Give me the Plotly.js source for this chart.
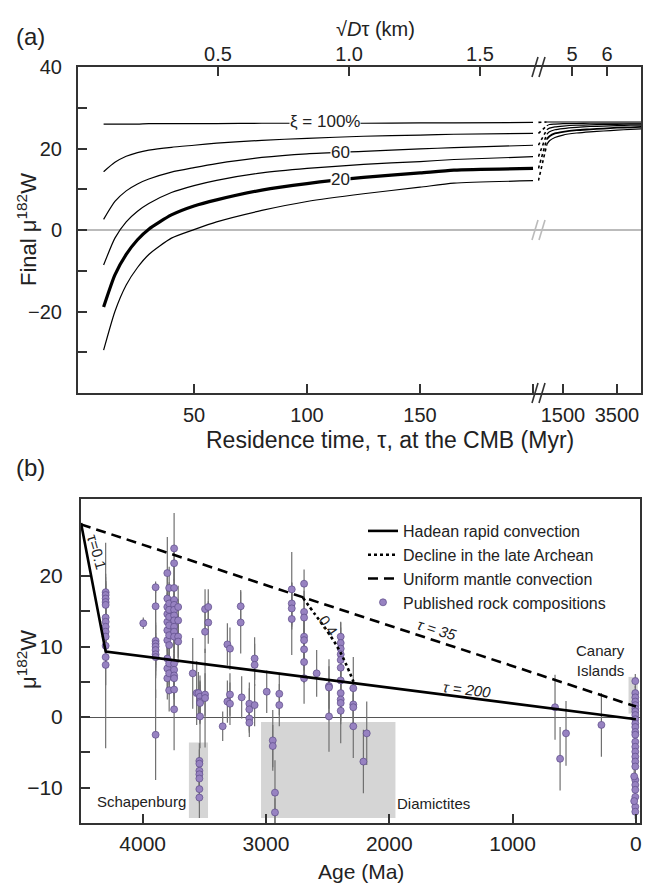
<!DOCTYPE html>
<html><head><meta charset="utf-8">
<script src="https://cdn.plot.ly/plotly-3.0.1.min.js"></script>
<style>html,body{margin:0;padding:0;background:#fff}#chart{width:659px;height:885px}</style>
</head><body><div id="chart"></div>
<script>
// ---------- Panel (a) data ----------
const tau = [10,15,20,25,30,40,50,60,80,100,125,150,165,200];
const xi100 = [26.0,26.0,26.0,26.0,26.1,26.1,26.1,26.1,26.2,26.2,26.2,26.3,26.3,26.4];
const xi80  = [14.3,16.6,18.1,19.0,19.6,20.3,20.8,21.3,22.0,22.5,23.0,23.3,23.5,23.7];
const xi60  = [2.6,7.0,9.6,11.3,12.5,14.2,15.3,16.3,17.8,18.7,19.3,19.9,20.2,20.8];
const xi40  = [-8.6,-2.0,2.0,4.6,6.5,9.2,10.9,12.2,14.0,15.1,16.1,16.8,17.3,18.0];
const xi20  = [-18.9,-11.0,-6.0,-2.4,0.2,3.7,5.9,7.4,9.8,11.4,12.9,14.0,14.7,15.1];
const xi0   = [-29.5,-20.0,-13.5,-9.2,-6.0,-2.0,0.1,2.0,4.8,7.0,8.9,10.5,11.5,12.1];
const tauLong = [900,1000,1200,1500,2000,2500,3000,3500,4000,4390];
const xi100L = [26.5,26.5,26.5,26.5,26.5,26.5,26.5,26.5,26.5,26.5];
const xi80L  = [25.6,25.9,26.0,26.1,26.1,26.2,26.2,26.2,26.2,26.2];
const xi60L  = [24.6,25.0,25.3,25.5,25.7,25.8,25.9,25.9,26.0,26.0];
const xi40L  = [23.5,24.1,24.6,24.9,25.2,25.4,25.5,25.6,25.7,25.7];
const xi20L  = [22.3,23.0,23.7,24.1,24.5,24.7,24.9,25.1,25.2,25.3];
const xi0L   = [21.0,21.9,22.7,23.3,23.8,24.1,24.3,24.5,24.7,24.8];
const gapTau = [590,900];
const bottomTicksA = [50,100,150,200];
const bottomLabelsA = ['50','100','150',''];
const bottomTicksA2 = [1500,3500];
const topTicksA = [60.6,118.6,176.5];
const topLabelsA = ['0.5','1.0','1.5'];
const topTicksA2 = [1833,3130];
const topLabelsA2 = ['5','6'];
const yTicksA = [-30,-20,-10,0,10,20,30,40];
const yLabelsA = ['','−20','','0','','20','','40'];

// ---------- Panel (b) data ----------
const hadeanAge = [4500,4300,0];
const hadeanMu  = [27.5,9.3,-0.3];
const declineAge = [2700,2600,2500,2400,2290];
const declineMu  = [16.9,14.5,12.1,9.3,5.0];
const uniformAge = [4500,0];
const uniformMu  = [27.3,1.5];
const rockColAge = [4300,3995,3895,3800,3785,3745,3712,3594,3562,3548,3535,3494,3468,3540,3351,3313,3292,3205,3197,3135,3092,2994,2945,2927,2892,2791,2691,2589,2489,2394,2292,2210,2183,656,615,567,280,5,14];
const rockColMu = [
 [17.7,17.3,16.8,16.3,15.9,14.1,13.5,12.8,12.1,11.4,10.1,8.5,7.4],
 [13.3],
 [18.4,15.7,10.8,10.4,10.0,9.5,8.9,8.5,-2.5],
 [20.4,16.8,15.6,14.6,13.5,12.3,10.9,8.3,6.9,5.5],
 [18.3,16.1,15.2,14.2,13.0,11.6,10.2,7.6,6.2,3.8],
 [23.9,21.8,18.3,16.6,15.9,15.2,14.4,13.7,12.8,12.1,11.4,7.6,6.7,5.9,5.5,3.9,1.1],
 [15.6,13.7,11.4,10.7],
 [6.2],[3.4],[3.4],
 [2.9,2.2,2.0,0.1],
 [15.3,12.1,3.2,2.7],
 [15.6,13.4],
 [-6.2,-6.6,-7.6,-8.1,-8.7,-10.2,-11.4],
 [-1.3],[10.3,2.2],[9.7,3.2,1.9],[15.7,13.4],[2.8],
 [1.9,1.1,-0.2,-0.8],[8.3,7.4,1.7],[3.6],[-3.3,-4.1],[-10.7,-13.5],[3.3,1.7],
 [18.1,16.1,15.4,13.9],
 [18.9,14.9,14.1,11.4,10.9,9.6,7.8,5.5],
 [6.2],[4.4,4.2,0.1],
 [11.4,10.5,9.7,8.9,8.1,7.0,5.2,3.4,2.5,2.0,0.9],
 [4.1,1.8,1.4,-1.3],[-6.3],[-2.3],
 [1.4],[-5.9],[-2.3],[-1.1],
 [5.1,3.4,2.8,2.2,1.7,1.2,0.8,0.3,-0.3,-0.9,-1.4,-2.1,-2.5,-3.5,-4.2,-4.9,-5.6,-6.3,-7.0,-8.9,-9.6,-10.3,-11.3,-12.7,-13.4],
 [-8.4,-11.9]
];
const rockColErr = [
 [7,3,3,3,3,3,3,3,3,3,3,4,11.8],
 [0.8],
 [0.8,3.2,8.1,3,3,3,3,3,6.4],
 [5.1,3,3,3,3,3,3,3,3,3],
 [3,3,3,3,3,3,3,3,3,3],
 [5,2.5,3,3,3,3,3,3,3,3,3,3,3,3,3,3,5.8],
 [3,3,3,3],
 [5],[4.5],[3],
 [3,3,3,4.5],
 [2.8,3,3,7],
 [2.5,3],
 [2.5,2,2,2,2,2,2.9],
 [2.1],[3,3],[3,3,3],[2.3,4.4],[3],
 [3,3,2,2],[3,3,3],[3],[4.3,3],[4.6,2],[3,3],
 [5.3,3,3,5.1],
 [2,3,3,3,3,3,3,3.6],
 [3.3],[3.8,3,5],
 [2,3,3,3,3,3,3,3,3,3,4.6],
 [4.4,3,3,4.5],[4.5],[4.5],
 [4.6],[4.5],[4.6],[4.5],
 [1,1,1,1,1,1,1,1,1,1,1,1,1,1,1,1,1,1,1,1,1,1,1,1,1],
 [1,1]
];
const regionName = ['Schapenburg','Diamictites','Canary'];
const regionAgeMax = [3625,3040,60];
const regionAgeMin = [3470,1950,-15];
const regionMuMin = [-14.3,-14.3,0.5];
const regionMuMax = [-3.6,-0.7,5.7];
const xTicksB = [4000,3000,2000,1000,0];
const yTicksB = [-10,-5,0,5,10,15,20];
const yLabelsB = ['−10','','0','','10','','20'];

// ---------- build ----------
const W=659,H=885;
const px=x=>x/W, py=y=>1-y/H;
const FONT='Liberation Sans, Arial, sans-serif';
const rockAge=[],rockMu=[],rockErr=[];
rockColAge.forEach((a,i)=>{rockColMu[i].forEach((m,j)=>{rockAge.push(a);rockMu.push(m);rockErr.push(rockColErr[i][j]);});});

const traces=[];
const segA=[xi100,xi80,xi60,xi40,xi20,xi0];
const segL=[xi100L,xi80L,xi60L,xi40L,xi20L,xi0L];
segA.forEach((arr,i)=>{
  const w = i===4?3.2:1.2;
  traces.push({x:tau,y:arr,xaxis:'x',yaxis:'y',mode:'lines',line:{color:'#000',width:w,shape:'spline',smoothing:0.6},showlegend:false,hoverinfo:'skip'});
  traces.push({x:tauLong,y:segL[i],xaxis:'x2',yaxis:'y2',mode:'lines',line:{color:'#000',width:i===4?1.8:1.2,shape:'spline',smoothing:0.6},showlegend:false,hoverinfo:'skip'});
  traces.push({x:gapTau,y:[arr[arr.length-1],segL[i][0]],xaxis:'x2',yaxis:'y2',mode:'lines',line:{color:'#000',width:1.6,dash:'dot'},showlegend:false,hoverinfo:'skip'});
});
traces.push({x:[],y:[],xaxis:'x3',yaxis:'y',showlegend:false});
traces.push({x:[],y:[],xaxis:'x4',yaxis:'y2',showlegend:false});

traces.push({x:rockAge,y:rockMu,xaxis:'x5',yaxis:'y3',mode:'markers',name:'Published rock compositions',legendrank:4,
  marker:{size:7,color:'#9782c1',line:{color:'#5d4c88',width:0.7}},
  error_y:{type:'data',array:rockErr,visible:true,color:'#707070',thickness:1.2,width:0}});
traces.push({x:hadeanAge,y:hadeanMu,xaxis:'x5',yaxis:'y3',mode:'lines',name:'Hadean rapid convection',legendrank:1,line:{color:'#000',width:2.6}});
traces.push({x:declineAge,y:declineMu,xaxis:'x5',yaxis:'y3',mode:'lines',name:'Decline in the late Archean',legendrank:2,line:{color:'#000',width:2.6,dash:'dot',shape:'spline'}});
traces.push({x:uniformAge,y:uniformMu,xaxis:'x5',yaxis:'y3',mode:'lines',name:'Uniform mantle convection',legendrank:3,line:{color:'#000',width:2.6,dash:'10px,6px'}});

const ax={showline:true,linecolor:'#333',linewidth:2,ticks:'inside',ticklen:9,tickwidth:2,tickcolor:'#333',showgrid:false,zeroline:false,tickfont:{size:20,color:'#222',family:FONT}};

const shapes=[];
regionName.forEach((n,i)=>{
  shapes.push({type:'rect',xref:'x5',yref:'y3',x0:regionAgeMax[i],x1:regionAgeMin[i],y0:regionMuMin[i],y1:regionMuMax[i],fillcolor:'#d5d5d5',line:{width:0},layer:'below'});
});
// axis-break marks
[[67,'#333'],[393,'#333'],[230,'#bbb']].forEach(([y,c])=>{
  [[532,538],[539,545]].forEach(([a,b])=>{
    shapes.push({type:'line',xref:'paper',yref:'paper',x0:px(a),x1:px(b),y0:py(y+10),y1:py(y-10),line:{color:c,width:1.6}});
  });
});

const ann=[];
const T=(x,y,text,opt)=>ann.push(Object.assign({xref:'paper',yref:'paper',x:px(x),y:py(y),xanchor:'center',yanchor:'middle',text:text,showarrow:false,font:{size:21,color:'#222',family:FONT}},opt||{}));
T(30,37,'(a)',{font:{size:24,color:'#222',family:FONT}});
T(30,467,'(b)',{font:{size:24,color:'#222',family:FONT}});
T(375,29,'√<i>D</i>τ (km)',{font:{size:20,color:'#222',family:FONT}});
T(390,440,'Residence time, τ, at the CMB (Myr)',{font:{size:23,color:'#222',family:FONT}});
T(27,230,'Final μ<sup>182</sup>W',{textangle:-90,font:{size:22,color:'#222',family:FONT}});
T(27,660,'μ<sup>182</sup>W',{textangle:-90,font:{size:22,color:'#222',family:FONT}});
T(361,871,'Age (Ma)',{font:{size:21,color:'#222',family:FONT}});
const A=(x,y,text,opt)=>ann.push(Object.assign({xref:'x',yref:'y',x:x,y:y,text:text,showarrow:false,font:{size:17,color:'#222',family:FONT},bgcolor:'#fff',borderpad:0},opt||{}));
A(108,26.6,'ξ = 100%');
A(115,19.1,'60');
A(115,12.3,'20');
const B=(x,y,text,opt)=>ann.push(Object.assign({xref:'x5',yref:'y3',x:x,y:y,text:text,showarrow:false,font:{size:15,color:'#222',family:FONT}},opt||{}));
B(4374,23.4,'τ=0.1',{textangle:74});
B(2494,13.0,'0.4',{textangle:56});
B(1616,12.4,'<i>τ = 35</i>',{textangle:17});
B(1372,3.9,'<i>τ = 200</i>',{textangle:7});
B(4010,-12.0,'Schapenburg');
B(1645,-12.3,'Diamictites');
B(70,8.0,'Canary<br>Islands',{xanchor:'right',align:'right'});

const layout={
  width:W,height:H,margin:{l:0,r:0,t:0,b:0},paper_bgcolor:'#fff',plot_bgcolor:'rgba(0,0,0,0)',
  font:{family:FONT,color:'#222'},
  xaxis:Object.assign({},ax,{domain:[px(78),px(538)],range:[-1.33,202.2],anchor:'y',tickvals:bottomTicksA,ticktext:bottomLabelsA,ticklabelstandoff:3}),
  xaxis2:Object.assign({},ax,{domain:[px(538),px(641)],range:[574,4389],anchor:'y2',tickvals:bottomTicksA2,ticktext:['1500','3500'],ticklabelstandoff:3}),
  xaxis3:Object.assign({},ax,{overlaying:'x',side:'top',anchor:'y',range:[-1.33,202.2],tickvals:topTicksA,ticktext:topLabelsA,ticklabelstandoff:-4,tickfont:{size:20,color:'#222',family:FONT}}),
  xaxis4:Object.assign({},ax,{overlaying:'x2',side:'top',anchor:'y2',range:[574,4389],tickvals:topTicksA2,ticktext:topLabelsA2,ticklabelstandoff:-4,tickfont:{size:20,color:'#222',family:FONT}}),
  yaxis:Object.assign({},ax,{domain:[py(393),py(67)],range:[-40,40],anchor:'x',tickvals:yTicksA,ticktext:yLabelsA,zeroline:true,zerolinecolor:'#bbb',zerolinewidth:2,ticklabelstandoff:10}),
  yaxis2:Object.assign({},ax,{domain:[py(393),py(67)],range:[-40,40],anchor:'x2',side:'right',ticks:'',showticklabels:false,zeroline:true,zerolinecolor:'#bbb',zerolinewidth:2}),
  xaxis5:Object.assign({},ax,{domain:[px(81),px(640)],range:[4500,-33],anchor:'y3',mirror:true,tickvals:xTicksB,ticklabelstandoff:1,tickfont:{size:21,color:'#222',family:FONT}}),
  yaxis3:Object.assign({},ax,{domain:[py(823),py(499)],range:[-15,30.9],anchor:'x5',mirror:true,tickvals:yTicksB,ticktext:yLabelsB,zeroline:true,zerolinecolor:'#555',zerolinewidth:1,ticklabelstandoff:12,tickfont:{size:21,color:'#222',family:FONT}}),
  showlegend:true,
  legend:{x:px(363),xanchor:'left',y:py(514),yanchor:'top',font:{size:16,color:'#222',family:FONT},bgcolor:'rgba(0,0,0,0)',borderwidth:0,tracegroupgap:0},
  shapes:shapes,annotations:ann
};
Plotly.newPlot('chart',traces,layout,{displayModeBar:false,staticPlot:true});
</script></body></html>
